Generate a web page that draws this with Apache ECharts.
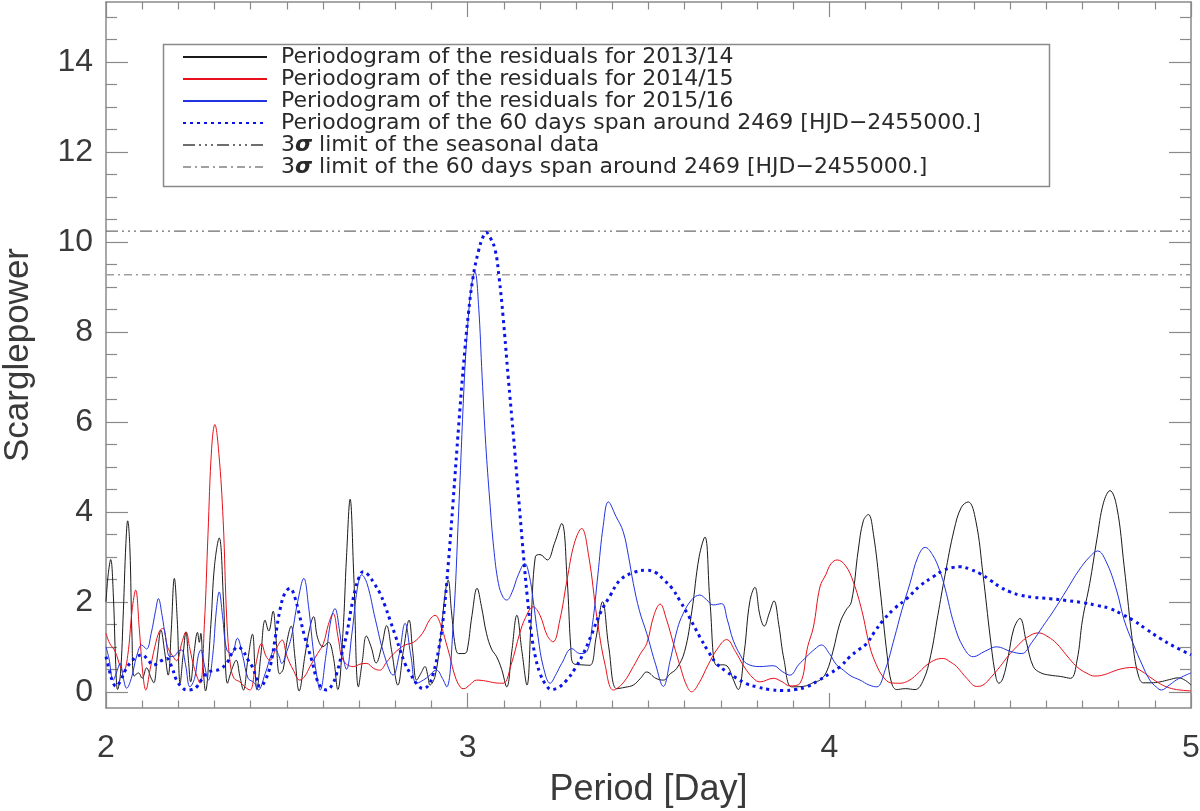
<!DOCTYPE html>
<html>
<head>
<meta charset="utf-8">
<script src="https://cdn.jsdelivr.net/npm/echarts@6/dist/echarts.min.js"></script>
<style>html,body{margin:0;padding:0;background:#fff}#c{width:1200px;height:811px}</style>
</head>
<body>
<div id="c"></div>
<script>
// ---------- data (period [day], Scargle power) ----------
const seriesNames = [
  'Periodogram of the residuals for 2013/14',
  'Periodogram of the residuals for 2014/15',
  'Periodogram of the residuals for 2015/16',
  'Periodogram of the 60 days span around 2469 [HJD\u22122455000.]',
  '3\u03c3 limit of the seasonal data',
  '3\u03c3 limit of the 60 days span around 2469 [HJD\u22122455000.]'
];
const limitSeasonal = 10.24;
const limitSpan60 = 9.27;
const xRange = [2, 5];
const xTickValues = [2, 3, 4, 5];
const yMajorTicks = [0, 2, 4, 6, 8, 10, 12, 14];

const res1314 = [
[2.000,2.0],[2.006,2.6],[2.013,2.94],[2.020,2.2],[2.027,0.6],[2.032,0.05],[2.040,0.4],[2.048,1.8],[2.055,3.3],[2.060,3.8],
[2.066,3.2],[2.072,1.2],[2.078,0.35],[2.090,0.42],[2.100,0.3],[2.112,0.53],[2.125,0.3],[2.132,0.2],[2.142,0.8],[2.152,1.37],
[2.162,0.9],[2.172,0.37],[2.180,1.3],[2.189,2.52],[2.197,1.6],[2.205,0.19],[2.213,0.8],[2.221,1.33],[2.228,0.7],[2.234,0.22],
[2.244,0.9],[2.253,1.32],[2.258,1.1],[2.262,1.3],[2.268,0.6],[2.275,0.02],[2.290,1.5],[2.300,2.8],[2.313,3.42],[2.325,2.0],
[2.336,0.19],[2.348,0.5],[2.360,0.7],[2.370,0.35],[2.380,0.04],[2.392,0.7],[2.405,1.28],[2.412,0.5],[2.417,0.05],[2.428,0.8],
[2.440,1.59],[2.450,1.35],[2.462,1.79],[2.470,1.2],[2.480,0.4],[2.490,0.5],[2.500,1.1],[2.512,1.46],[2.522,0.8],[2.534,0.02],
[2.550,0.8],[2.563,1.4],[2.574,1.67],[2.585,1.2],[2.600,1.0],[2.615,1.1],[2.628,0.8],[2.641,0.05],[2.655,1.3],[2.665,3.0],
[2.675,4.28],[2.685,2.6],[2.698,0.11],[2.709,0.7],[2.720,1.24],[2.733,1.0],[2.747,0.64],[2.762,1.0],[2.776,1.47],[2.790,0.9],
[2.807,0.15],[2.822,0.9],[2.838,1.59],[2.848,0.9],[2.859,0.26],[2.870,0.4],[2.882,0.56],[2.890,0.35],[2.896,0.15],[2.910,0.35],
[2.925,1.2],[2.938,2.2],[2.946,2.48],[2.955,1.8],[2.966,1.0],[2.975,0.85],[2.990,0.85],[2.998,0.9],[3.012,1.7],[3.026,2.3],
[3.038,1.9],[3.052,1.3],[3.066,0.95],[3.080,0.78],[3.094,0.5],[3.108,0.11],[3.122,0.9],[3.136,1.7],[3.150,0.9],[3.164,0.15],
[3.175,1.5],[3.187,3.0],[3.200,3.05],[3.220,2.93],[3.240,3.3],[3.260,3.74],[3.275,2.5],[3.285,1.0],[3.292,0.63],[3.315,0.6],
[3.338,0.59],[3.355,1.2],[3.373,2.0],[3.390,1.0],[3.412,0.07],[3.435,0.1],[3.458,0.15],[3.478,0.3],[3.495,0.44],[3.520,0.3],
[3.541,0.26],[3.560,0.4],[3.578,0.52],[3.600,0.9],[3.620,1.8],[3.640,3.0],[3.656,3.44],[3.670,2.0],[3.688,0.59],[3.705,0.6],
[3.720,0.55],[3.733,0.3],[3.748,0.05],[3.765,0.9],[3.780,2.0],[3.794,2.32],[3.808,1.7],[3.820,1.46],[3.834,1.75],[3.847,2.02],
[3.860,1.5],[3.875,0.7],[3.896,0.11],[3.928,0.12],[3.960,0.22],[3.974,0.26],[3.992,0.44],[4.010,0.9],[4.029,1.52],[4.045,1.8],
[4.061,2.0],[4.080,3.15],[4.094,3.8],[4.108,3.94],[4.122,3.5],[4.140,2.3],[4.160,0.8],[4.172,0.2],[4.186,0.05],[4.210,0.07],
[4.237,0.05],[4.260,0.26],[4.280,0.8],[4.300,1.7],[4.320,2.6],[4.345,3.6],[4.365,4.1],[4.384,4.22],[4.405,3.8],[4.425,2.6],
[4.445,1.2],[4.460,0.35],[4.469,0.19],[4.480,0.3],[4.495,0.8],[4.510,1.4],[4.527,1.63],[4.545,1.1],[4.564,0.56],[4.585,0.42],
[4.610,0.37],[4.640,0.34],[4.667,0.3],[4.685,0.7],[4.700,1.6],[4.720,2.41],[4.740,3.4],[4.758,4.2],[4.776,4.47],[4.795,4.1],
[4.815,2.8],[4.840,1.0],[4.855,0.35],[4.868,0.2],[4.890,0.2],[4.914,0.22],[4.940,0.27],[4.965,0.31],[4.985,0.25],[5.000,0.15]
];

const res1415 = [
[2.000,1.3],[2.010,1.08],[2.025,0.9],[2.040,0.55],[2.048,0.44],[2.060,0.8],[2.072,1.8],[2.082,2.26],[2.092,1.4],[2.102,0.4],
[2.110,0.04],[2.122,0.5],[2.135,1.0],[2.148,1.35],[2.158,1.41],[2.170,1.0],[2.184,0.8],[2.195,0.69],[2.210,1.1],[2.221,1.33],
[2.232,0.95],[2.245,0.5],[2.260,0.19],[2.272,1.5],[2.282,3.5],[2.292,5.4],[2.301,5.94],[2.312,5.3],[2.324,3.8],[2.334,1.6],
[2.344,0.6],[2.354,0.3],[2.370,0.22],[2.385,0.1],[2.398,0.04],[2.414,0.6],[2.430,1.07],[2.442,0.8],[2.453,0.7],[2.470,0.95],
[2.487,1.15],[2.500,0.8],[2.518,0.48],[2.536,0.26],[2.550,0.35],[2.564,0.56],[2.585,0.85],[2.601,1.07],[2.615,1.5],[2.628,1.74],
[2.642,1.2],[2.656,0.7],[2.684,0.56],[2.705,0.62],[2.721,0.63],[2.740,0.52],[2.757,0.48],[2.775,0.65],[2.790,0.8],[2.810,0.95],
[2.827,1.04],[2.850,1.1],[2.875,1.3],[2.895,1.6],[2.910,1.7],[2.925,1.5],[2.940,1.1],[2.951,0.78],[2.965,0.35],[2.980,0.1],
[2.990,0.07],[3.005,0.15],[3.025,0.26],[3.050,0.24],[3.075,0.2],[3.098,0.19],[3.120,0.6],[3.144,1.3],[3.160,1.65],[3.181,1.89],
[3.200,1.7],[3.220,1.25],[3.236,1.11],[3.255,1.6],[3.275,2.5],[3.295,3.3],[3.315,3.63],[3.335,3.0],[3.357,1.67],[3.380,0.6],
[3.403,0.04],[3.430,0.2],[3.458,0.56],[3.478,0.85],[3.495,1.07],[3.515,1.7],[3.532,1.95],[3.550,1.6],[3.569,1.07],[3.590,0.5],
[3.605,0.15],[3.619,0.0],[3.640,0.2],[3.665,0.6],[3.690,0.95],[3.716,1.16],[3.740,0.9],[3.765,0.55],[3.790,0.3],[3.808,0.22],
[3.845,0.3],[3.870,0.22],[3.891,0.13],[3.919,0.19],[3.940,1.0],[3.956,1.44],[3.974,2.33],[3.990,2.6],[4.005,2.85],[4.022,2.93],
[4.045,2.8],[4.066,2.45],[4.090,1.8],[4.112,1.0],[4.130,0.6],[4.149,0.33],[4.170,0.2],[4.195,0.19],[4.220,0.25],[4.241,0.38],
[4.270,0.6],[4.296,0.72],[4.315,0.74],[4.335,0.66],[4.352,0.56],[4.380,0.3],[4.407,0.12],[4.425,0.15],[4.450,0.35],[4.472,0.56],
[4.495,0.8],[4.518,1.0],[4.545,1.2],[4.578,1.31],[4.605,1.22],[4.629,1.07],[4.655,0.82],[4.684,0.56],[4.710,0.42],[4.734,0.35],
[4.760,0.38],[4.794,0.48],[4.820,0.53],[4.840,0.54],[4.865,0.45],[4.886,0.33],[4.910,0.2],[4.932,0.11],[4.960,0.05],[5.000,0.02]
];

const res1516 = [
[2.000,1.0],[2.008,0.75],[2.020,0.26],[2.030,0.45],[2.039,0.63],[2.048,0.3],[2.057,0.08],[2.070,0.3],[2.085,0.8],[2.099,1.04],
[2.112,0.95],[2.125,1.3],[2.137,1.8],[2.145,2.07],[2.155,1.7],[2.165,1.2],[2.177,0.78],[2.190,0.8],[2.200,0.9],[2.209,0.93],
[2.220,0.6],[2.232,0.11],[2.245,0.3],[2.255,0.8],[2.262,0.93],[2.272,0.6],[2.283,0.26],[2.295,0.8],[2.305,1.8],[2.313,2.22],
[2.322,1.7],[2.334,0.93],[2.348,0.85],[2.363,1.19],[2.378,0.8],[2.393,0.3],[2.410,0.2],[2.421,0.04],[2.440,0.4],[2.456,0.8],
[2.467,0.96],[2.478,0.8],[2.486,0.63],[2.500,0.9],[2.512,1.2],[2.530,2.0],[2.547,2.52],[2.560,1.9],[2.572,1.0],[2.582,0.4],
[2.592,0.04],[2.608,0.8],[2.622,1.6],[2.633,1.85],[2.645,1.4],[2.655,0.8],[2.665,0.5],[2.680,1.3],[2.695,2.3],[2.707,2.6],
[2.722,2.4],[2.745,1.6],[2.770,0.8],[2.794,0.37],[2.810,0.8],[2.827,1.52],[2.843,0.8],[2.859,0.19],[2.885,0.3],[2.914,0.48],
[2.930,0.3],[2.942,0.11],[2.960,1.5],[2.975,4.0],[2.990,6.8],[2.998,7.9],[3.010,9.0],[3.020,9.33],[3.030,8.6],[3.040,7.0],
[3.050,5.5],[3.061,4.26],[3.072,3.2],[3.085,2.41],[3.098,2.1],[3.108,2.04],[3.122,2.2],[3.140,2.6],[3.158,2.85],[3.170,2.6],
[3.181,2.04],[3.195,1.2],[3.209,0.56],[3.228,0.19],[3.245,0.4],[3.260,0.63],[3.288,0.96],[3.310,0.85],[3.330,0.9],[3.345,1.5],
[3.360,2.6],[3.375,3.7],[3.389,4.22],[3.410,3.9],[3.430,3.56],[3.445,3.0],[3.458,2.41],[3.475,1.8],[3.495,1.3],[3.520,0.6],
[3.541,0.12],[3.560,0.7],[3.580,1.4],[3.596,1.74],[3.620,2.05],[3.642,2.15],[3.660,2.05],[3.679,1.93],[3.702,1.96],[3.718,1.6],
[3.734,1.15],[3.755,0.8],[3.771,0.63],[3.808,0.56],[3.845,0.58],[3.870,0.45],[3.891,0.37],[3.915,0.6],[3.937,0.78],[3.960,0.95],
[3.978,1.04],[4.000,0.85],[4.020,0.6],[4.039,0.48],[4.060,0.35],[4.085,0.26],[4.110,0.15],[4.131,0.11],[4.155,0.5],[4.180,1.2],
[4.200,1.8],[4.223,2.41],[4.245,3.0],[4.265,3.21],[4.285,3.05],[4.305,2.7],[4.320,2.3],[4.345,1.5],[4.370,1.0],[4.398,0.78],
[4.430,0.9],[4.463,1.0],[4.500,0.9],[4.532,0.85],[4.560,1.1],[4.590,1.45],[4.620,1.8],[4.656,2.26],[4.690,2.7],[4.720,3.0],
[4.742,3.13],[4.765,2.9],[4.794,2.26],[4.815,1.6],[4.840,1.07],[4.865,0.6],[4.886,0.26],[4.905,0.1],[4.918,0.04],[4.940,0.15],
[4.959,0.26],[4.980,0.35],[5.000,0.42]
];

const span60 = [
[2.000,0.78],[2.010,0.45],[2.020,0.19],[2.028,0.12],[2.040,0.25],[2.055,0.5],[2.068,0.65],[2.085,0.78],[2.100,0.82],[2.115,0.72],
[2.131,0.59],[2.150,0.68],[2.168,0.74],[2.182,0.55],[2.195,0.26],[2.210,0.1],[2.223,0.04],[2.238,0.05],[2.251,0.11],[2.265,0.28],
[2.278,0.41],[2.295,0.47],[2.315,0.5],[2.335,0.65],[2.350,0.88],[2.365,1.0],[2.378,0.92],[2.392,0.72],[2.405,0.55],[2.416,0.3],
[2.426,0.11],[2.440,0.25],[2.455,0.6],[2.468,1.2],[2.481,1.82],[2.495,2.2],[2.509,2.3],[2.522,2.1],[2.535,1.7],[2.550,1.2],
[2.569,0.7],[2.582,0.3],[2.595,0.1],[2.610,0.04],[2.625,0.15],[2.638,0.41],[2.652,0.85],[2.666,1.3],[2.678,1.85],[2.690,2.3],
[2.700,2.55],[2.711,2.67],[2.725,2.6],[2.742,2.4],[2.757,2.2],[2.772,1.9],[2.785,1.6],[2.800,1.25],[2.813,0.93],[2.827,0.62],
[2.841,0.41],[2.860,0.17],[2.877,0.07],[2.892,0.15],[2.905,0.41],[2.920,0.95],[2.933,1.67],[2.947,2.9],[2.960,4.26],[2.975,5.9],
[2.988,7.22],[3.002,8.4],[3.015,9.22],[3.030,9.8],[3.042,10.1],[3.051,10.21],[3.062,10.1],[3.076,9.82],[3.087,9.2],[3.098,8.33],
[3.112,7.0],[3.126,5.74],[3.140,4.4],[3.153,3.15],[3.165,2.1],[3.176,1.3],[3.188,0.75],[3.200,0.41],[3.215,0.17],[3.232,0.05],
[3.252,0.1],[3.274,0.26],[3.297,0.52],[3.320,0.85],[3.343,1.28],[3.366,1.74],[3.395,2.15],[3.421,2.48],[3.458,2.65],[3.495,2.7],
[3.520,2.65],[3.541,2.5],[3.565,2.3],[3.587,2.02],[3.610,1.7],[3.642,1.22],[3.665,0.9],[3.688,0.63],[3.715,0.45],[3.744,0.3],
[3.770,0.18],[3.799,0.11],[3.835,0.05],[3.873,0.03],[3.905,0.05],[3.937,0.11],[3.970,0.25],[4.002,0.41],[4.030,0.56],[4.057,0.78],
[4.080,0.93],[4.103,1.07],[4.125,1.33],[4.149,1.59],[4.180,1.85],[4.214,2.07],[4.250,2.35],[4.288,2.56],[4.315,2.7],[4.340,2.76],
[4.361,2.78],[4.390,2.72],[4.416,2.63],[4.445,2.48],[4.472,2.33],[4.500,2.22],[4.527,2.15],[4.565,2.1],[4.610,2.07],[4.655,2.03],
[4.702,1.98],[4.740,1.92],[4.776,1.85],[4.810,1.72],[4.840,1.59],[4.875,1.4],[4.914,1.19],[4.955,1.0],[5.000,0.82]
];

// ---------- chart ----------
const yMin = -0.36, yMax = 15.33;
const yMinorTicks = [];
for (let v = 0.5; v <= 15.001; v += 0.5) { if (Math.abs(v / 2 - Math.round(v / 2)) > 1e-6) yMinorTicks.push(+v.toFixed(2)); }

const axisGray = '#8a8a8a';
const textColor = '#3a3a3a';
const axisFont = 'Liberation Sans, Arial, sans-serif';
const legendFont = 'DejaVu Sans, sans-serif';

function yAx(pos, major, showLabel, showLine, showName) {
  return {
    type: 'value', position: pos, min: yMin, max: yMax,
    axisLine: { show: showLine, lineStyle: { color: axisGray, width: 1.5 } },
    axisTick: { show: true, inside: true, length: major ? 22 : 11, customValues: major ? yMajorTicks : yMinorTicks,
      lineStyle: { color: axisGray, width: 1.2 } },
    axisLabel: { show: showLabel, customValues: yMajorTicks, margin: 13, fontSize: 32, fontFamily: axisFont, color: textColor },
    splitLine: { show: false },
    name: showName ? 'Scarglepower' : '', nameLocation: 'middle', nameGap: 70,
    nameTextStyle: { fontSize: 35, fontFamily: axisFont, color: textColor }
  };
}
function xAx(pos, showLabel, showName) {
  return {
    type: 'value', position: pos, min: xRange[0], max: xRange[1], interval: 1,
    axisLine: { show: true, onZero: false, lineStyle: { color: axisGray, width: 1.5 } },
    axisTick: { show: true, inside: true, length: 15, lineStyle: { color: axisGray, width: 1.2 } },
    minorTick: { show: true, splitNumber: 10, length: 7.5, lineStyle: { color: axisGray, width: 1.2 } },
    axisLabel: { show: showLabel, margin: 24, fontSize: 32, fontFamily: axisFont, color: textColor,
      customValues: xTickValues },
    splitLine: { show: false }, minorSplitLine: { show: false },
    name: showName ? 'Period [Day]' : '', nameLocation: 'middle', nameGap: 64,
    nameTextStyle: { fontSize: 36, fontFamily: axisFont, color: textColor }
  };
}

const lineColors = ['#1a1a1a', '#e8101a', '#2233e0', '#0a14e8', '#6e6e6e', '#a0a0a0'];

const chart = echarts.init(document.getElementById('c'), null, { renderer: 'canvas' });
const option = {
  animation: false,
  backgroundColor: '#fff',
  grid: { left: 106, right: 9, top: 2, bottom: 103, containLabel: false, outerBoundsMode: 'none' },
  xAxis: [xAx('bottom', true, true), xAx('top', false, false)],
  yAxis: [yAx('left', true, true, true, true), yAx('left', false, false, false, false),
          yAx('right', true, false, true, false), yAx('right', false, false, false, false)],
  legend: {
    show: true, orient: 'vertical', left: 182, top: 46, padding: 0, itemGap: 0,
    itemWidth: 84, itemHeight: 14, selectedMode: false,
    data: seriesNames,
    itemStyle: { color: 'rgba(0,0,0,0)', borderWidth: 0, opacity: 0 },
    formatter: function (name) { return name.replace('\u03c3', '{s|\u03c3}'); },
    textStyle: {
      fontFamily: legendFont, fontSize: 22, color: '#2a2a2a', lineHeight: 22, padding: [0, 0, 0, 9],
      rich: { s: { fontFamily: legendFont, fontSize: 22, fontStyle: 'italic', fontWeight: 'bold', color: '#2a2a2a', lineHeight: 22 } }
    }
  },
  graphic: [{
    type: 'rect', left: 161, top: 42, z: 100, silent: true,
    shape: { width: 886, height: 142 },
    style: { fill: 'none', stroke: '#8a8a8a', lineWidth: 1.5 }
  }],
  series: [
    { name: seriesNames[0], type: 'line', data: res1314, showSymbol: false, symbol: 'none', smooth: 0.4, z: 3,
      lineStyle: { color: lineColors[0], width: 1 }, itemStyle: { color: lineColors[0] } },
    { name: seriesNames[1], type: 'line', data: res1415, showSymbol: false, symbol: 'none', smooth: 0.4, z: 3,
      lineStyle: { color: lineColors[1], width: 1 }, itemStyle: { color: lineColors[1] } },
    { name: seriesNames[2], type: 'line', data: res1516, showSymbol: false, symbol: 'none', smooth: 0.4, z: 3,
      lineStyle: { color: lineColors[2], width: 1 }, itemStyle: { color: lineColors[2] } },
    { name: seriesNames[3], type: 'line', data: span60, showSymbol: false, symbol: 'none', smooth: 0.4, z: 4,
      lineStyle: { color: lineColors[3], width: 3, type: [3, 4] }, itemStyle: { color: lineColors[3] } },
    { name: seriesNames[4], type: 'line', data: [[xRange[0], limitSeasonal], [xRange[1], limitSeasonal]], showSymbol: false, symbol: 'none', z: 2,
      lineStyle: { color: lineColors[4], width: 1.2, type: [12, 4, 2, 4, 2, 4, 2, 4] }, itemStyle: { color: lineColors[4] } },
    { name: seriesNames[5], type: 'line', data: [[xRange[0], limitSpan60], [xRange[1], limitSpan60]], showSymbol: false, symbol: 'none', z: 2,
      lineStyle: { color: lineColors[5], width: 1.6, type: [8, 4, 2, 4] }, itemStyle: { color: lineColors[5] } }
  ]
};
chart.setOption(option);
</script>
</body>
</html>
